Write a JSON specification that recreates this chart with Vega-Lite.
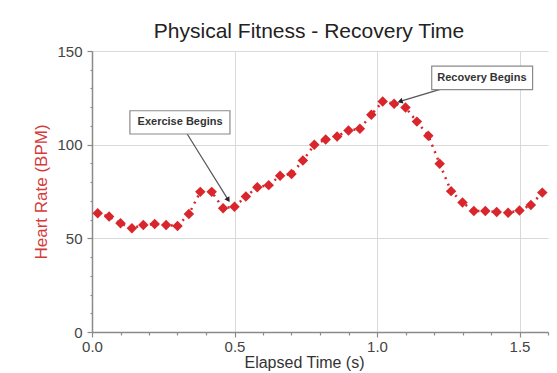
{
  "$schema": "https://vega.github.io/schema/vega-lite/v6.json",
  "autosize": "none",
  "width": 456,
  "height": 281,
  "padding": {"left": 92, "top": 51, "right": 9, "bottom": 41},
  "background": "white",
  "title": {"text": "Physical Fitness - Recovery Time", "fontSize": 21, "fontWeight": "normal", "font": "Liberation Sans", "color": "#222222", "anchor": "middle", "dx": -11, "offset": 2},
  "config": {
    "font": "Liberation Sans",
    "view": {"stroke": null},
    "axis": {"domainColor": "#8a8a8a", "domainWidth": 1.5, "tickColor": "#8a8a8a", "tickWidth": 1.2, "gridColor": "#d9d9d9", "gridWidth": 1, "labelColor": "#444444", "labelFontSize": 15, "labelFont": "Liberation Sans", "titleFont": "Liberation Sans", "titleFontWeight": "normal"}
  },
  "datasets": {
    "pts": [
      {"t": 0.02, "hr": 63.4}, {"t": 0.06, "hr": 61.6}, {"t": 0.10, "hr": 58.0}, {"t": 0.14, "hr": 55.4},
      {"t": 0.18, "hr": 57.1}, {"t": 0.22, "hr": 57.7}, {"t": 0.26, "hr": 57.1}, {"t": 0.30, "hr": 56.6},
      {"t": 0.34, "hr": 63.0}, {"t": 0.38, "hr": 74.8}, {"t": 0.42, "hr": 74.8}, {"t": 0.46, "hr": 66.1},
      {"t": 0.50, "hr": 66.9}, {"t": 0.54, "hr": 72.3}, {"t": 0.58, "hr": 77.3}, {"t": 0.62, "hr": 78.4},
      {"t": 0.66, "hr": 83.4}, {"t": 0.70, "hr": 84.4}, {"t": 0.74, "hr": 91.5}, {"t": 0.78, "hr": 99.9},
      {"t": 0.82, "hr": 102.8}, {"t": 0.86, "hr": 104.4}, {"t": 0.90, "hr": 107.6}, {"t": 0.94, "hr": 108.5},
      {"t": 0.98, "hr": 116.0}, {"t": 1.02, "hr": 123.1}, {"t": 1.06, "hr": 121.9}, {"t": 1.10, "hr": 119.9},
      {"t": 1.14, "hr": 112.3}, {"t": 1.18, "hr": 104.8}, {"t": 1.22, "hr": 89.8}, {"t": 1.26, "hr": 75.2},
      {"t": 1.30, "hr": 69.1}, {"t": 1.34, "hr": 64.6}, {"t": 1.38, "hr": 64.6}, {"t": 1.42, "hr": 64.1},
      {"t": 1.46, "hr": 63.7}, {"t": 1.50, "hr": 64.8}, {"t": 1.54, "hr": 67.8}, {"t": 1.58, "hr": 74.4}
    ],
    "boxes": [
      {"label": "Exercise Begins", "t": 0.133, "t2": 0.484, "hr": 105.7, "hr2": 118.1},
      {"label": "Recovery Begins", "t": 1.192, "t2": 1.546, "hr": 129.4, "hr2": 141.9}
    ],
    "labels": [
      {"label": "Exercise Begins", "t": 0.309, "hr": 111.9},
      {"label": "Recovery Begins", "t": 1.368, "hr": 135.8}
    ],
    "arrows": [
      {"name": "exercise", "t": 0.334, "hr": 105.7, "t2": 0.478, "hr2": 70.5},
      {"name": "recovery", "t": 1.239, "hr": 130.3, "t2": 1.081, "hr2": 123.1}
    ],
    "heads": [
      {"name": "exercise", "t": 0.478, "hr": 70.5},
      {"name": "recovery", "t": 1.081, "hr": 123.1}
    ]
  },
  "encoding": {
    "x": {"field": "t", "type": "quantitative", "scale": {"domain": [0, 1.6], "nice": false},
      "axis": {"values": [0, 0.1, 0.2, 0.3, 0.4, 0.5, 0.6, 0.7, 0.8, 0.9, 1.0, 1.1, 1.2, 1.3, 1.4, 1.5, 1.6],
        "labelExpr": "abs(datum.value*2 - round(datum.value*2)) < 0.001 ? format(datum.value, '.1f') : ''",
        "gridOpacity": {"condition": {"test": "abs(datum.value*2 - round(datum.value*2)) < 0.001", "value": 1}, "value": 0},
        "tickSize": {"condition": {"test": "abs(datum.value*2 - round(datum.value*2)) < 0.001", "value": 5}, "value": 3},
        "labelPadding": 2, "labelFlush": false, "labelOverlap": false,
        "title": "Elapsed Time (s)", "titleFontSize": 16, "titleColor": "#333333", "titlePadding": 0, "titleX": 212}},
    "y": {"field": "hr", "type": "quantitative", "scale": {"domain": [0, 150], "nice": false},
      "axis": {"values": [0, 10, 20, 30, 40, 50, 60, 70, 80, 90, 100, 110, 120, 130, 140, 150],
        "labelExpr": "datum.value % 50 == 0 ? datum.value : ''",
        "gridOpacity": {"condition": {"test": "datum.value % 50 == 0", "value": 1}, "value": 0},
        "tickSize": {"condition": {"test": "datum.value % 50 == 0", "value": 5}, "value": 2},
        "labelPadding": 5, "labelFlush": false, "labelOverlap": false,
        "title": "Heart Rate (BPM)", "titleFontSize": 17, "titleColor": "#d43c3c", "titlePadding": 6}}
  },
  "layer": [
    {
      "data": {"name": "pts"},
      "mark": {"type": "line", "color": "#d8262c", "strokeWidth": 2.5, "strokeDash": [2, 5], "strokeCap": "butt"},
      "encoding": {}
    },
    {
      "data": {"name": "pts"},
      "mark": {"type": "point", "shape": "diamond", "filled": true, "size": 110, "color": "#d8262c", "opacity": 1}
    },
    {
      "data": {"name": "arrows"},
      "mark": {"type": "rule", "color": "#555555", "strokeWidth": 1.2},
      "encoding": {"x2": {"field": "t2"}, "y2": {"field": "hr2"}}
    },
    {
      "data": {"name": "heads"},
      "transform": [{"filter": "datum.name == 'exercise'"}],
      "mark": {"type": "point", "shape": "triangle-up", "filled": true, "size": 35, "color": "#222222", "opacity": 1, "angle": 148}
    },
    {
      "data": {"name": "heads"},
      "transform": [{"filter": "datum.name == 'recovery'"}],
      "mark": {"type": "point", "shape": "triangle-up", "filled": true, "size": 35, "color": "#222222", "opacity": 1, "angle": 253}
    },
    {
      "data": {"name": "boxes"},
      "mark": {"type": "rect", "fill": "white", "stroke": "#8a8a8a", "strokeWidth": 1.2},
      "encoding": {"x2": {"field": "t2"}, "y2": {"field": "hr2"}}
    },
    {
      "data": {"name": "labels"},
      "mark": {"type": "text", "font": "Liberation Sans", "fontWeight": "bold", "fontSize": 11, "color": "#333333", "align": "center", "baseline": "middle"},
      "encoding": {"text": {"field": "label"}}
    }
  ]
}
